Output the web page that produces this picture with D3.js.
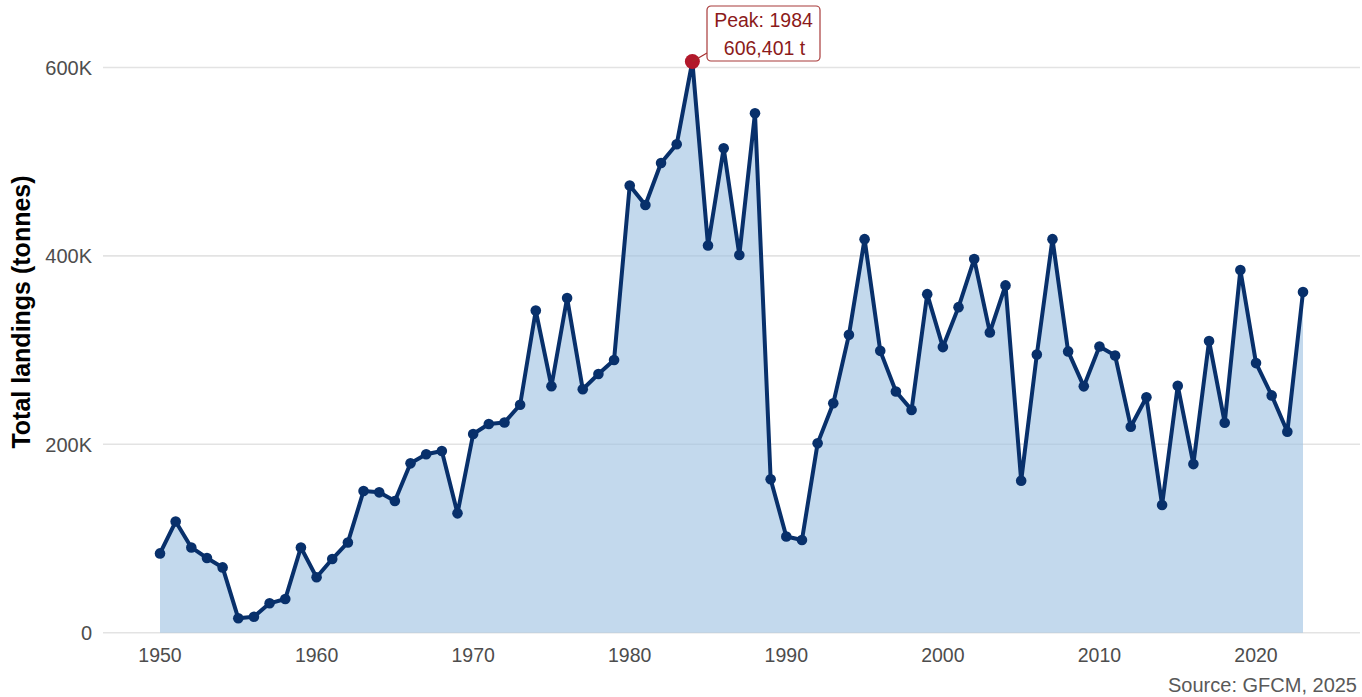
<!DOCTYPE html>
<html>
<head>
<meta charset="utf-8">
<script src="https://cdn.jsdelivr.net/npm/d3@7"></script>
<style>
  html, body { margin: 0; padding: 0; background: #ffffff; }
  svg { display: block; font-family: "Liberation Sans", Arial, Helvetica, sans-serif; }
</style>
</head>
<body>
<svg id="chart" width="1362" height="697"></svg>
<script>
// ---- data (tonnes) ----
const years = d3.range(1950, 2024);
const landings = [
  84200, 118000, 90500, 79300, 69300, 15300, 17000, 31200, 35800, 90500,
  58800, 78200, 95800, 150400, 149000, 139800, 179800, 189400, 192900, 126700,
  210900, 221500, 223200, 242000, 342000, 261600, 355300, 258400, 274600, 289500,
  474800, 454000, 498600, 518500, 606401, 411000, 514200, 401000, 551400, 162900,
  102200, 98400, 201000, 243500, 316200, 417800, 299200, 256000, 236500, 359400,
  303200, 345600, 396600, 318800, 368700, 161400, 295200, 417800, 298600, 261500,
  303900, 294300, 218700, 249900, 135600, 262200, 179000, 309700, 222900, 385000,
  286200, 251900, 213400, 361600
];
const xTicks = [1950, 1960, 1970, 1980, 1990, 2000, 2010, 2020];
const yTicks = [0, 200000, 400000, 600000];
const yTickLabels = ["0", "200K", "400K", "600K"];
const peakYear = 1984;
const peakValue = 606401;
const yTitle = "Total landings (tonnes)";
const sourceText = "Source: GFCM, 2025";

const data = years.map((y, i) => ({ year: y, value: landings[i] }));

// ---- layout ----
const svg = d3.select("#chart");
const panelLeft = 103, panelRight = 1360;
const x = d3.scaleLinear().domain([1950, 2023]).range([160, 1303]);
const y = d3.scaleLinear().domain([0, 600000]).range([632.7, 67.5]);

// gridlines
svg.append("g").selectAll("line").data(yTicks).join("line")
  .attr("x1", panelLeft).attr("x2", panelRight)
  .attr("y1", d => y(d)).attr("y2", d => y(d))
  .attr("stroke", "#e3e3e3").attr("stroke-width", 1.6);

// y tick labels
svg.append("g").selectAll("text").data(yTicks).join("text")
  .attr("x", 92).attr("y", d => y(d))
  .attr("dy", "0.36em")
  .attr("text-anchor", "end")
  .attr("font-size", 20).attr("fill", "#4d4d4d")
  .text((d, i) => yTickLabels[i]);

// x tick labels
svg.append("g").selectAll("text").data(xTicks).join("text")
  .attr("x", d => x(d)).attr("y", 662)
  .attr("text-anchor", "middle")
  .attr("font-size", 19.5).attr("fill", "#4d4d4d")
  .text(d => d);

// area
const area = d3.area().x(d => x(d.year)).y0(y(0)).y1(d => y(d.value));
svg.append("path").datum(data)
  .attr("d", area)
  .attr("fill", "#9ec2e2").attr("fill-opacity", 0.62);

// line
const line = d3.line().x(d => x(d.year)).y(d => y(d.value));
svg.append("path").datum(data)
  .attr("d", line)
  .attr("fill", "none").attr("stroke", "#08306b")
  .attr("stroke-width", 4).attr("stroke-linejoin", "round");

// points
svg.append("g").selectAll("circle").data(data).join("circle")
  .attr("cx", d => x(d.year)).attr("cy", d => y(d.value))
  .attr("r", 5.3).attr("fill", "#08306b");

// peak highlight
const px = x(peakYear), py = y(peakValue);
svg.append("circle").attr("cx", px).attr("cy", py).attr("r", 7.5).attr("fill", "#b2182b");

// annotation label
const boxX = 707, boxY = 6, boxW = 113, boxH = 55;
svg.append("line")
  .attr("x1", px).attr("y1", py)
  .attr("x2", boxX).attr("y2", boxY + boxH - 8)
  .attr("stroke", "#a52a2a").attr("stroke-width", 1.2);
svg.append("rect")
  .attr("x", boxX).attr("y", boxY).attr("width", boxW).attr("height", boxH)
  .attr("rx", 4).attr("ry", 4)
  .attr("fill", "#ffffff").attr("stroke", "#a83a3a").attr("stroke-width", 1.2);
svg.append("text")
  .attr("x", boxX + boxW / 2).attr("y", 27)
  .attr("text-anchor", "middle").attr("font-size", 19.5).attr("fill", "#8b1a1a")
  .text("Peak: " + peakYear);
svg.append("text")
  .attr("x", boxX + boxW / 2 + 1).attr("y", 55)
  .attr("text-anchor", "middle").attr("font-size", 19.5).attr("fill", "#8b1a1a")
  .text(d3.format(",")(peakValue) + " t");

// y-axis title
svg.append("text")
  .attr("transform", "translate(30,312) rotate(-90)")
  .attr("text-anchor", "middle")
  .attr("font-size", 25).attr("font-weight", "bold").attr("fill", "#000000")
  .text(yTitle);

// source caption
svg.append("text")
  .attr("x", 1357).attr("y", 692)
  .attr("text-anchor", "end")
  .attr("font-size", 20).attr("fill", "#595959")
  .text(sourceText);
</script>
</body>
</html>
